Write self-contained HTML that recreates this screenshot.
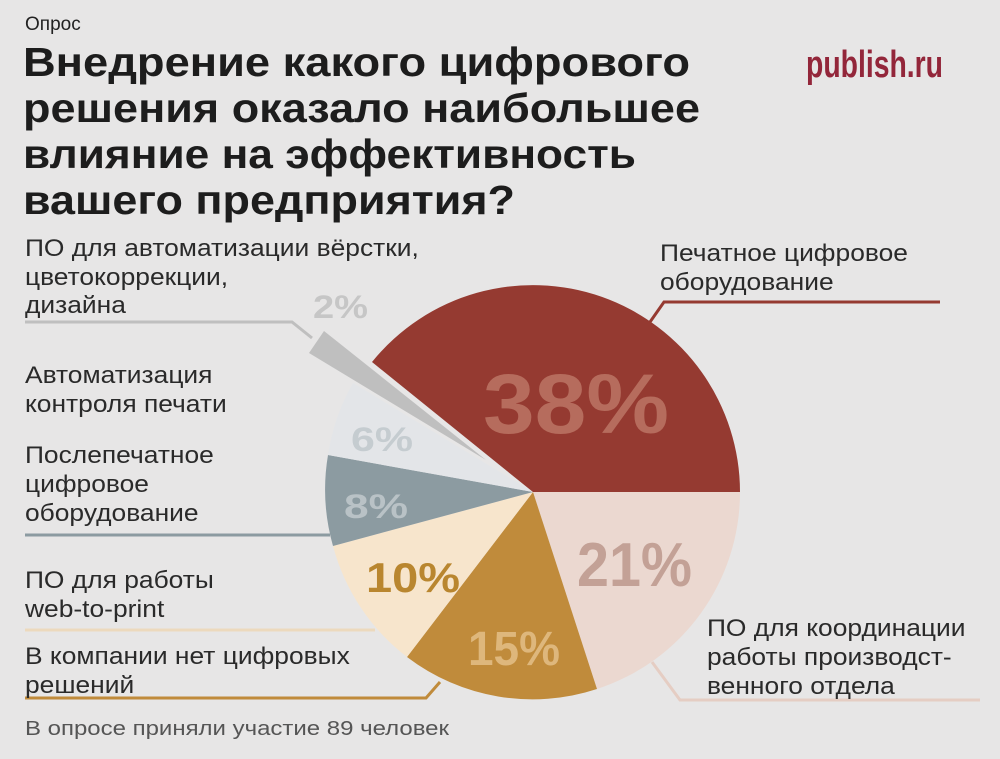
<!DOCTYPE html>
<html><head><meta charset="utf-8"><style>
body{margin:0;background:#e7e6e6;}
svg{display:block}
</style></head><body>
<svg width="1000" height="759" viewBox="0 0 1000 759" xmlns="http://www.w3.org/2000/svg" font-family="'Liberation Sans', sans-serif">
<rect width="1000" height="759" fill="#e7e6e6"/>
<text x="25" y="30" font-size="19" fill="#222">Опрос</text>
<g font-size="41" font-weight="bold" fill="#1d1d1d">
<text x="23" y="76" textLength="667" lengthAdjust="spacingAndGlyphs">Внедрение какого цифрового</text>
<text x="23" y="122" textLength="677" lengthAdjust="spacingAndGlyphs">решения оказало наибольшее</text>
<text x="23" y="168" textLength="613" lengthAdjust="spacingAndGlyphs">влияние на эффективность</text>
<text x="23" y="214" textLength="492" lengthAdjust="spacingAndGlyphs">вашего предприятия?</text>
</g>
<text x="806" y="77" font-size="38" font-weight="bold" fill="#93263a" textLength="137" lengthAdjust="spacingAndGlyphs">publish.ru</text>

<g>
<path d="M533 492 L740 492 A207 207 0 0 1 597 689 Z" fill="#ebd8d0"/>
<path d="M533 492 L597 689 A207 207 0 0 1 407 657 Z" fill="#c08b3b"/>
<path d="M533 492 L407 657 A207 207 0 0 1 333 546 Z" fill="#f7e5cc"/>
<path d="M533 492 L333 546 A207 207 0 0 1 328 455 Z" fill="#8c9ba1"/>
<path d="M533 492 L328 455 A207 207 0 0 1 353 383 Z" fill="#e3e5e8"/>
<path d="M533 492 L372 362 A207 207 0 0 1 740 492 Z" fill="#953a31"/>
<polygon points="309,353 324,331 486,460" fill="#bfbfbf"/>
</g>
<g font-weight="bold">
<text x="483" y="433" font-size="84" fill="#b66c5d" textLength="186" lengthAdjust="spacingAndGlyphs">38%</text>
<text x="577" y="586" font-size="62" fill="#c3a196" textLength="115" lengthAdjust="spacingAndGlyphs">21%</text>
<text x="468" y="665" font-size="48" fill="#deb77c" textLength="92" lengthAdjust="spacingAndGlyphs">15%</text>
<text x="366" y="592" font-size="42" fill="#b9862f" textLength="94" lengthAdjust="spacingAndGlyphs">10%</text>
<text x="344" y="518" font-size="34" fill="#b9c2c6" textLength="64" lengthAdjust="spacingAndGlyphs">8%</text>
<text x="351" y="451" font-size="34" fill="#c5ccd0" textLength="62" lengthAdjust="spacingAndGlyphs">6%</text>
<text x="313" y="318" font-size="32" fill="#c6c6c6" textLength="55" lengthAdjust="spacingAndGlyphs">2%</text>
</g>
<g fill="none" stroke-width="3">
<polyline points="650,322 664,302 940,302" stroke="#953a31"/>
<polyline points="652,662 680,700 980,700" stroke="#e5cdc3"/>
<polyline points="440,682 426,698 25,698" stroke="#c08b3b"/>
<polyline points="25,630 375,630" stroke="#ecd9bd"/>
<polyline points="25,535 330,535" stroke="#8c9ba1"/>
<polyline points="25,322 292,322 312,338" stroke="#bfbfbf"/>
</g>
<g font-size="24" fill="#2a2a2a" transform="scale(1.1,1)">
<text x="600" y="261">Печатное цифровое</text>
<text x="600" y="290">оборудование</text>
<text x="22.7" y="256">ПО для автоматизации вёрстки,</text>
<text x="22.7" y="285">цветокоррекции,</text>
<text x="22.7" y="313">дизайна</text>
<text x="22.7" y="383">Автоматизация</text>
<text x="22.7" y="412">контроля печати</text>
<text x="22.7" y="463">Послепечатное</text>
<text x="22.7" y="492">цифровое</text>
<text x="22.7" y="521">оборудование</text>
<text x="22.7" y="588">ПО для работы</text>
<text x="22.7" y="617">web-to-print</text>
<text x="22.7" y="664">В компании нет цифровых</text>
<text x="22.7" y="693">решений</text>
<text x="642.7" y="636">ПО для координации</text>
<text x="642.7" y="665">работы производст-</text>
<text x="642.7" y="694">венного отдела</text>
</g>
<text x="25" y="735" font-size="20" fill="#555" textLength="424" lengthAdjust="spacingAndGlyphs">В опросе приняли участие 89 человек</text>
</svg>
</body></html>
